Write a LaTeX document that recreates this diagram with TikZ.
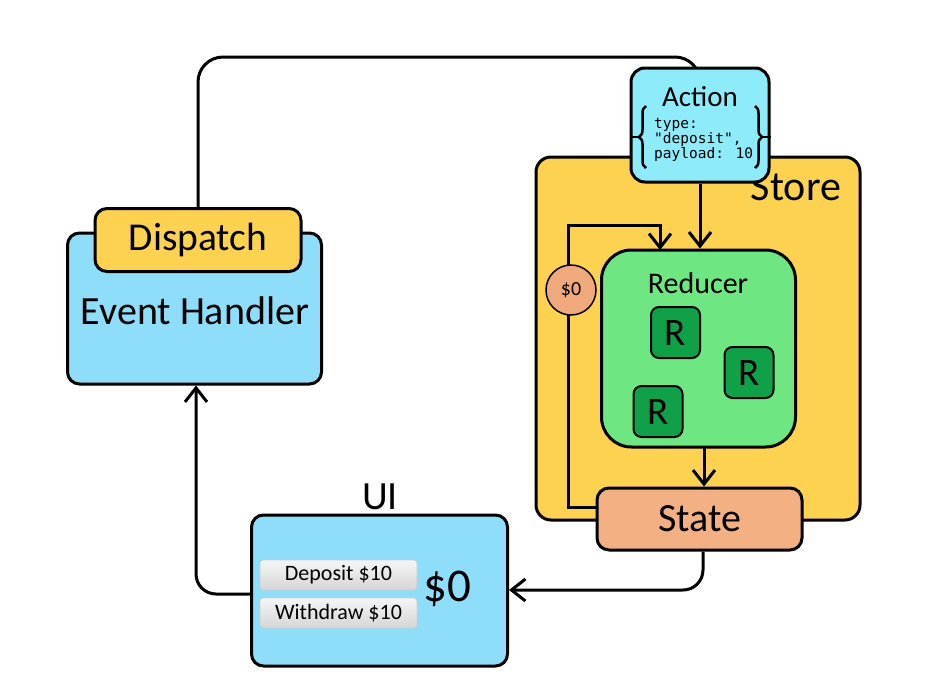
\documentclass[tikz,border=0pt]{standalone}
\usepackage{fontspec}
\setmainfont{Carlito}
\newfontfamily\codefont{DejaVu Sans Mono}
\usetikzlibrary{arrows.meta,decorations.pathreplacing,calc}

\definecolor{handlerblue}{RGB}{142,222,250}
\definecolor{actioncyan}{RGB}{142,236,250}
\definecolor{storeyellow}{RGB}{252,210,80}
\definecolor{reducergreen}{RGB}{110,230,130}
\definecolor{rgreen}{RGB}{16,160,72}
\definecolor{statesalmon}{RGB}{243,176,131}
\definecolor{coinsalmon}{RGB}{240,168,125}

\tikzset{
  box/.style={draw=black, line width=3pt, rounded corners=#1},
  box/.default=13pt,
  wire/.style={draw=black, line width=3pt},
  flow/.style={wire, -{Straight Barb[length=14pt,width=22pt,line width=3pt]}},
  rbox/.style={box=8pt, line width=2pt, fill=rgreen, minimum width=49pt, minimum height=51pt,
    font=\fontsize{39}{39}\selectfont, inner sep=0pt},
  button/.style={draw=black!20, line width=0.8pt, rounded corners=3pt,
    top color=white!96!black, bottom color=white!84!black,
    minimum width=157pt, minimum height=30pt, inner sep=0pt,
    font=\fontsize{22}{22}\selectfont},
  label40/.style={font=\fontsize{40}{40}\selectfont, inner sep=0pt},
}

\begin{document}
\begin{tikzpicture}[x=1pt, y=-1pt]
\useasboundingbox (0,0) rectangle (927,689);

% Store with its reducer
\node[box=15pt, fill=storeyellow, minimum width=324pt, minimum height=363pt, inner sep=0pt]
  (store) at (698,338.5) {};
\node[font=\fontsize{42}{42}\selectfont, inner sep=0pt, anchor=base] (storelabel) at (796,200) {Store};

\node[box=30pt, fill=reducergreen, minimum width=194pt, minimum height=197pt, inner sep=0pt]
  (reducer) at (698.5,348.5) {};
\node[font=\fontsize{30}{30}\selectfont, inner sep=0pt] (reducerlabel) at (698,283) {Reducer};
\node[rbox] (r1) at (675.5,332.5) {R};
\node[rbox] (r2) at (749,372.5) {R};
\node[rbox] (r3) at (658,411.5) {R};

\node[box=12pt, fill=statesalmon, minimum width=205pt, minimum height=62pt, label40]
  (state) at (699.5,519) {State};

% Event handler with dispatch tab
\node[box=12pt, fill=handlerblue, minimum width=254pt, minimum height=151pt, inner sep=0pt]
  (handler) at (194.5,308.5) {};
\node[font=\fontsize{40}{40}\selectfont, inner sep=0pt] (handlerlabel) at (195,311) {Event Handler};
\node[box=12pt, fill=storeyellow, minimum width=206pt, minimum height=63pt,
  font=\fontsize{39.5}{39.5}\selectfont, inner sep=0pt]
  (dispatch) at (198,240) {Dispatch};

% UI panel
\node[box=12pt, fill=handlerblue, minimum width=256pt, minimum height=151pt, inner sep=0pt]
  (ui) at (379.5,590.5) {};
\node[label40, anchor=base] (uilabel) at (380,509) {UI};
\node[button] (deposit) at (338.5,575) {Deposit \$10};
\node[button] (withdraw) at (338.5,613) {Withdraw \$10};
\node[font=\fontsize{47}{47}\selectfont, inner sep=0pt] (balance) at (447,589) {\$0};

% Connectors
\coordinate (topturn) at (700,57);
\draw[wire, rounded corners=25pt] (dispatch.north) |- (topturn) -- (700,110);

\coordinate (loopstart) at (state.west |- 0,507);
\coordinate (loopcorner) at (568,225);
\coordinate (loopend) at (660,250);
\draw[flow] (loopstart) -| (loopcorner) -| (loopend);
\node[circle, draw=black, line width=1.5pt, fill=coinsalmon, minimum size=50pt, inner sep=0pt,
  font=\fontsize{20}{20}\selectfont] (coin) at (571,290) {\$0};

\draw[flow] (704,447) -- (state.north -| 704,0);

\coordinate (stateturn) at (703,590);
\draw[flow, rounded corners=20pt] (state.south -| 703,0) |- (ui.east |- 0,590);

\coordinate (uiturn) at (196,594);
\draw[flow, rounded corners=20pt] (ui.west |- 0,594) -| (handler.south -| 196,0);

% Action object
\node[box=14pt, fill=actioncyan, minimum width=138pt, minimum height=114pt, inner sep=0pt]
  (action) at (700,125) {};
\draw[flow] (action.south) -- (reducer.north -| 700,0);
\node[font=\fontsize{29}{29}\selectfont, inner sep=0pt] (actionlabel) at (700,97) {Action};
\node[font=\codefont\fontsize{14.5}{14}\selectfont, align=left, inner sep=0pt, anchor=north west]
  (payload) at (654,118) {type:\\"deposit",\\payload: 10};
\draw[line width=2.5pt, decorate, decoration={brace, amplitude=7pt}] (646,168) -- (646,106);
\draw[line width=2.5pt, decorate, decoration={brace, amplitude=7pt}] (755,106) -- (755,168);
\draw[line width=2.5pt] (630,137) -- (640,137);
\draw[line width=2.5pt] (761,137) -- (771,137);

\end{tikzpicture}
\end{document}
